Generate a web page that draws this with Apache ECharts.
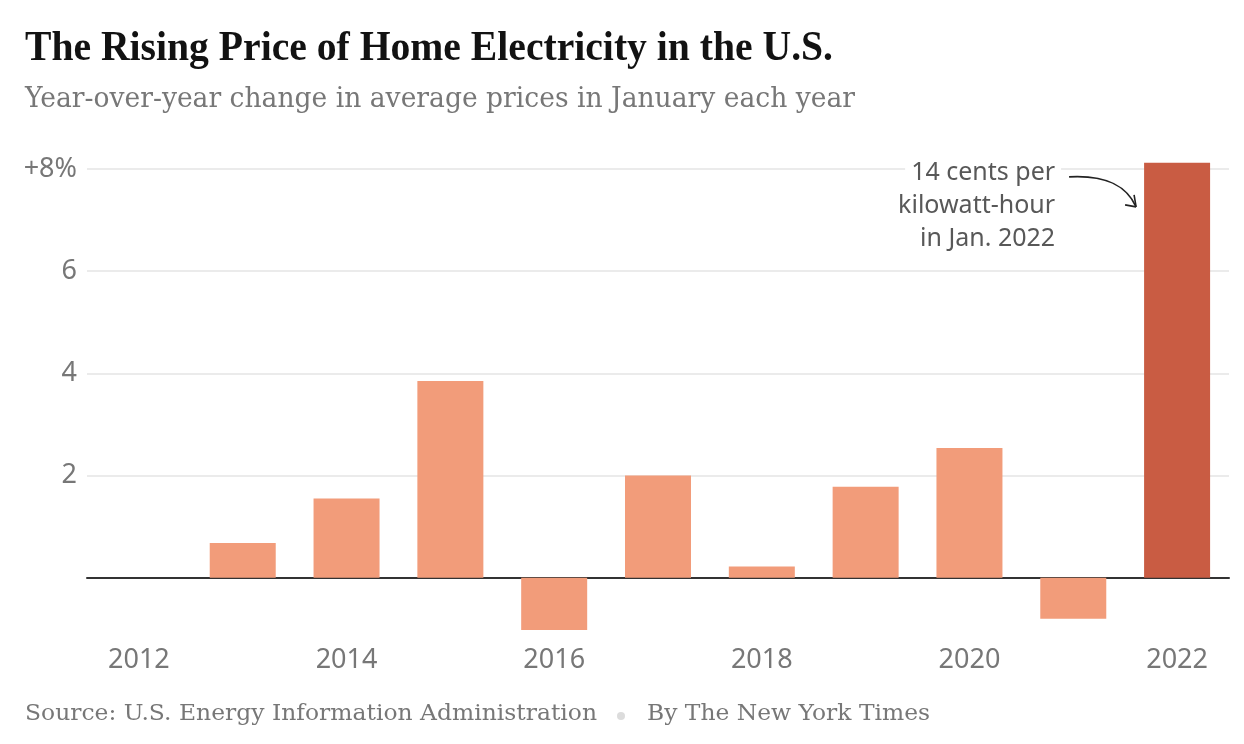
<!DOCTYPE html>
<html><head><meta charset="utf-8">
<script src="https://cdn.jsdelivr.net/npm/echarts@6/dist/echarts.min.js"></script>
<style>html,body{margin:0;padding:0;background:#fff}#c{width:1244px;height:744px}</style>
</head><body><div id="c"></div>
<script>
// ---- data ----
const years = ['2012','2013','2014','2015','2016','2017','2018','2019','2020','2021','2022'];
const changes = [null, 0.68, 1.55, 3.85, -1.02, 2.00, 0.22, 1.78, 2.54, -0.80, 8.12];
const highlightYear = '2022';
const yTickLabels = {2:'2', 4:'4', 6:'6', 8:'+8%'};
const titleText = 'The Rising Price of Home Electricity in the U.S.';
const subtitleText = 'Year-over-year change in average prices in January each year';
const sourceText = 'Source: U.S. Energy Information Administration';
const bylineText = 'By The New York Times';
const noteLines = ['14 cents per', 'kilowatt-hour', 'in Jan. 2022'];

// ---- styles ----
const barColor = '#F29C7A';
const hiColor = '#C95C43';
const sans = '"Noto Sans", "Liberation Sans", sans-serif';
const serif = '"Liberation Serif", "DejaVu Serif", serif';
const serif2 = '"DejaVu Serif", serif';

function measure(text, font){
  const c = document.createElement('canvas').getContext('2d');
  c.font = font; return c.measureText(text).width;
}
function fitText(text, x, y, size, weight, family, color, targetW){
  const w = measure(text, weight + ' ' + size + 'px ' + family);
  return {type:'text', x:x, y:y, scaleX: targetW / w, originX: 0, originY: 0,
    style:{text:text, fontSize:size, fontWeight:weight, fontFamily:family, fill:color,
      textAlign:'left', textVerticalAlign:'middle'}};
}

const chart = echarts.init(document.getElementById('c'), null, {renderer:'canvas'});
const option = {
  animation:false,
  backgroundColor:'#fff',
  grid:{left:87, right:15, top:169, bottom:64, outerBoundsMode:'none', containLabel:false},
  xAxis:{type:'category', data:years,
    axisLine:{onZero:true, lineStyle:{color:'#333', width:2}},
    axisTick:{show:false},
    axisLabel:{interval:1, margin:-33, color:'#777', fontSize:27, fontFamily:sans}},
  yAxis:{type:'value', min:-2, max:8, interval:2,
    axisLine:{show:false}, axisTick:{show:false},
    axisLabel:{margin:10, color:'#777', fontSize:27, fontFamily:sans,
      formatter:v => yTickLabels[v] || ''},
    splitLine:{lineStyle:{color:['rgba(0,0,0,0)','rgba(0,0,0,0)','#e4e4e4','#e4e4e4','#e4e4e4','#e4e4e4'], width:1.5}}},
  series:[{type:'bar', barWidth:66, clip:false,
    data: changes.map((v,i)=> years[i]===highlightYear ? {value:v, itemStyle:{color:hiColor}} : v),
    itemStyle:{color:barColor}}]
};
chart.setOption(option);

const hiIdx = years.indexOf(highlightYear);
const barTop = chart.convertToPixel({seriesIndex:0}, [hiIdx, changes[hiIdx]]);
const bx = barTop[0], by = barTop[1];
const textRight = bx - 116;
const noteEls = noteLines.map((t,i)=>({type:'text', x:textRight, y:by + 10 + i*33,
  style:{text:t, fontSize:25, fontFamily:sans, fill:'#585858', textAlign:'right', textVerticalAlign:'middle',
    backgroundColor:'#fff', padding:[0,6,0,6]}}));
const ax0 = textRight + 8, ay0 = by + 14;
const ax1 = bx - 41, ay1 = by + 44;
const arrow = {type:'bezierCurve', shape:{x1:ax0, y1:ay0, cpx1:ax0+36, cpy1:ay0-2, cpx2:ax1-10, cpy2:ay1-22, x2:ax1, y2:ay1},
  style:{stroke:'#222', lineWidth:1.6, fill:null}};
const head1 = {type:'line', shape:{x1:ax1-11, y1:ay1-2, x2:ax1, y2:ay1}, style:{stroke:'#222', lineWidth:1.6}};
const head2 = {type:'line', shape:{x1:ax1-2, y1:ay1-12, x2:ax1, y2:ay1}, style:{stroke:'#222', lineWidth:1.6}};

const srcEl = fitText(sourceText, 25, 714, 23, 'normal', serif2, '#777', 572);
const dotX = 621;
const byEl = fitText(bylineText, 647, 714, 23, 'normal', serif2, '#777', 283);

chart.setOption({graphic:[
  fitText(titleText, 25, 49, 43, 'bold', serif, '#121212', 808),
  fitText(subtitleText, 25, 100, 27, 'normal', serif2, '#777', 830),
  ...noteEls, arrow, head1, head2,
  srcEl,
  {type:'circle', shape:{cx:dotX, cy:716, r:4}, style:{fill:'#dcdcdc'}},
  byEl
]});
</script></body></html>
